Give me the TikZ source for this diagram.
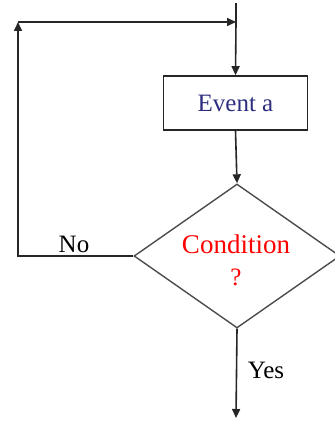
\documentclass[tikz,border=0pt]{standalone}
\usepackage{fontspec}
\setmainfont{Liberation Serif}
\usetikzlibrary{arrows.meta, shapes.geometric}
\definecolor{eventblue}{RGB}{46,46,128}
\tikzset{
    flow/.style={line width=0.8pt, draw=black!85},
    arr/.style={flow, -{Triangle[length=4.5pt,width=4pt]}},
    eventbox/.style={draw=black!85, line width=0.8pt, minimum width=72pt, minimum height=27pt, inner sep=0pt, text=eventblue},
    decision/.style={diamond, draw=black!70, line width=0.7pt, minimum width=103pt, minimum height=72pt, aspect=1.42, inner sep=0pt, text=red, align=center}
}
\begin{document}
\begin{tikzpicture}[x=0.5pt, y=-0.5pt, font=\fontsize{12.5}{16}\selectfont]
        \useasboundingbox (0,0) rectangle (334,422);
        \coordinate (start) at (236,3);
        \coordinate (join) at (236,22);
        \coordinate (loopcorner) at (18,22);
        \coordinate (noturn) at (18,256);
        \coordinate (exit) at (236,418);
        \node[eventbox] (event) at (235.5,103) {Event a};
        \node[decision] (cond) at (237,256) {};
        \node[text=red, font=\fontsize{13.5}{16}\selectfont] (condtxt) at (236,244) {Condition};
        \node[text=red] (condq) at (236,277) {?};
        \draw[flow] (start) -- (join);
        \draw[arr] (join) -- (event.north);
        \draw[arr] (event.south) -- (cond.north);
        \draw[arr] (cond.west) -- (noturn) -- (loopcorner);
        \draw[arr] (loopcorner) -- (join);
        \draw[arr] (cond.south) -- (exit);
        \node (no) at (74,244) {No};
        \node (yes) at (266,370) {Yes};
    \end{tikzpicture}
\end{document}
